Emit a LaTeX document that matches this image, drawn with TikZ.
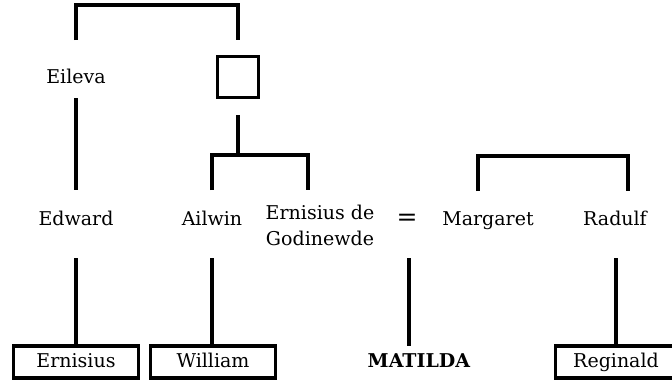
\documentclass[tikz,border=0pt]{standalone}
\usepackage{fontspec}
\setmainfont{DejaVu Serif}
\begin{document}
\begin{tikzpicture}[x=1pt,y=-1pt,
  line/.style={line width=3.2pt},
  person/.style={font=\fontsize{19}{24}\selectfont, inner sep=0pt, align=center,
                 text height=13.5pt, text depth=4pt},
  heir/.style={person, text depth=2.5pt, draw, line width=3.2pt,
               minimum width=125pt, minimum height=32pt},
  unknown/.style={draw, line width=3.2pt, minimum width=41pt, minimum height=41pt, inner sep=0pt},
]
\useasboundingbox (0,0) rectangle (672,380);

% first generation
\node[person] (eileva) at (76,79) {Eileva};
\node[unknown] (sq) at (238,77) {};

% second generation
\node[person] (edward)   at (76,221)  {Edward};
\node[person] (ailwin)   at (212,221) {Ailwin};
\node[font=\fontsize{19}{26}\selectfont, inner sep=0pt, align=center]
      (ernde)    at (320,225) {Ernisius de\\Godinewde};
\node[person, font=\fontsize{25}{24}\selectfont] (eq) at (407,221) {=};
\node[person] (margaret) at (488,221) {Margaret};
\node[person] (radulf)   at (615,221) {Radulf};

% third generation
\node[heir]   (ernisius) at (76,362)  {Ernisius};
\node[heir]   (william)  at (213,362) {William};
\node[person, text depth=2.5pt, minimum height=32pt] (matilda) at (419,362) {\textbf{MATILDA}};
\node[heir, minimum width=121pt] (reginald) at (616,362) {Reginald};

% sibling brackets
\draw[line] ([yshift=39pt]eileva.center) -- ++(0,-35) -| ([yshift=37pt]sq.center);
\coordinate (sib) at (238,155);
\draw[line] ([yshift=-16pt]sq.south) -- (sib);
\draw[line] ([yshift=31pt]ailwin.center) |- (sib) -| ([xshift=-12pt,yshift=35pt]ernde.center);
\coordinate (margUp) at (478,191);
\coordinate (radUp)  at (628,191);
\draw[line] (margUp) -- ++(0,-35) -| (radUp);

% descent lines
\draw[line] ([yshift=-19pt]eileva.center) -- ([yshift=31pt]edward.center);
\draw[line] ([yshift=-37pt]edward.center) -- (ernisius.north);
\draw[line] ([yshift=-37pt]ailwin.center) -- (ailwin.center |- william.north);
\draw[line] ([xshift=2pt,yshift=-37pt]eq.center) -- ([xshift=2pt]eq.center |- matilda.north);
\draw[line] ([yshift=-37pt]radulf.center -| reginald.north) -- (reginald.north);
\end{tikzpicture}
\end{document}
